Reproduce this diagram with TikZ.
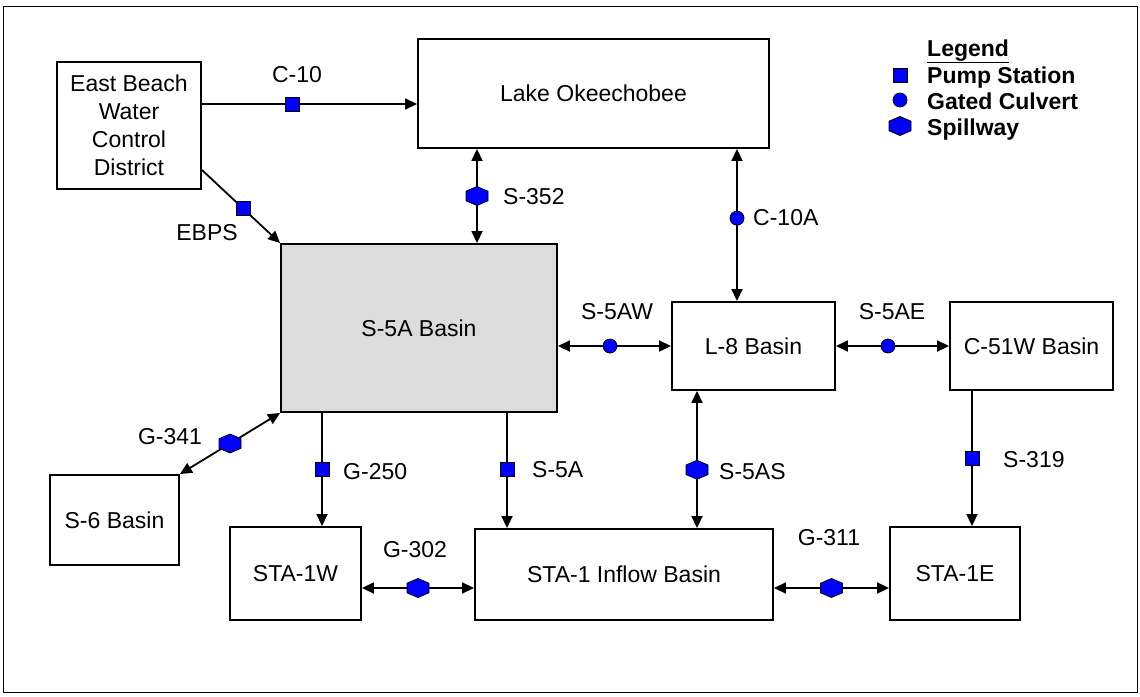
\documentclass[tikz,border=0pt]{standalone}
\usepackage{fontspec}
\setmainfont{Liberation Sans}
\usetikzlibrary{arrows.meta,positioning,shapes.geometric}
\definecolor{pumpblue}{RGB}{0,0,255}
\definecolor{basingray}{RGB}{220,220,220}
\tikzset{
  basin/.style={rectangle, draw=black, line width=1.9pt, fill=white,
                align=center, inner sep=2pt},
  basinmain/.style={basin, fill=basingray},
  pump/.style={rectangle, draw=black, line width=0.8pt, fill=pumpblue,
               minimum size=14pt, inner sep=0pt},
  culvert/.style={circle, draw=black, line width=0.8pt, fill=pumpblue,
                  minimum size=14pt, inner sep=0pt},
  spillhex/.style={draw=black, line width=0.8pt, fill=pumpblue},
  arr/.style={-{Triangle[length=12pt,width=11pt]}, line width=1.8pt},
  arrboth/.style={{Triangle[length=12pt,width=11pt]}-{Triangle[length=12pt,width=11pt]},
                  line width=1.8pt},
  lbl/.style={inner sep=0pt},
  lgd/.style={inner sep=0pt, anchor=west,
              font=\fontsize{23pt}{28pt}\selectfont\bfseries},
}
% spillway marker round a named coordinate
\newcommand{\spillat}[1]{%
  \draw[spillhex] (#1) ++(0,-9.5) -- ++(11,4.75) -- ++(0,9.5) -- ++(-11,4.75)
    -- ++(-11,-4.75) -- ++(0,-9.5) -- cycle;}

\begin{document}
\begin{tikzpicture}[x=1pt, y=-1pt, font=\fontsize{23pt}{28pt}\selectfont]
  \useasboundingbox (0,0) rectangle (1140,696);
  \draw[line width=1pt] (3,6) rectangle (1137,692);
  % basins
  \node[basin, minimum width=144pt, minimum height=127pt] (ebwcd) at (129,125.5)
       {East Beach\\Water\\Control\\District};
  \node[basin, minimum width=351pt, minimum height=109pt] (lake) at (593.5,93.5) {Lake Okeechobee};
  \node[basinmain, minimum width=276pt, minimum height=168pt] (s5a) at (419,328) {S-5A Basin};
  \node[basin, minimum width=163pt, minimum height=88pt] (l8) at (753.5,346) {L-8 Basin};
  \node[basin, minimum width=163pt, minimum height=88pt] (c51w) at (1031.5,346) {C-51W Basin};
  \node[basin, minimum width=129pt, minimum height=90pt] (s6) at (114.5,520) {S-6 Basin};
  \node[basin, minimum width=131pt, minimum height=93pt] (sta1w) at (295.5,573.5) {STA-1W};
  \node[basin, minimum width=298pt, minimum height=91pt] (sta1in) at (624,574.5) {STA-1 Inflow Basin};
  \node[basin, minimum width=130pt, minimum height=93pt] (sta1e) at (955,573.5) {STA-1E};
  % pump stations and gated culverts
  \draw[arr] ([yshift=21.5pt]ebwcd.east) -- node[pump, pos=0.42] (c10) {} (lake.west |- 0,104);
  \draw[arr] ([yshift=-44.5pt]ebwcd.east) -- node[pump, pos=0.525] (ebps) {} (s5a.north west);
  \draw[arrboth] (l8.north -| 737,0) -- node[culvert, pos=0.545] (c10a) {} (lake.south -| 737,0);
  \draw[arrboth] (s5a.east |- l8.west) -- node[culvert, pos=0.46] (s5aw) {} (l8.west);
  \draw[arrboth] (l8.east) -- node[culvert, pos=0.46] (s5ae) {} (c51w.west);
  \draw[arr] (s5a.south -| 322,0) -- node[pump] (g250) {} (sta1w.north -| 322,0);
  \draw[arr] (s5a.south -| 507,0) -- node[pump, pos=0.49] (s5ap) {} (sta1in.north -| 507,0);
  \draw[arr] (c51w.south -| 972,0) -- node[pump, pos=0.5] (s319) {} (sta1e.north -| 972,0);
  % spillways
  \draw[arrboth] (lake.south -| 477,0) -- coordinate[pos=0.5] (s352) (s5a.north -| 477,0);
  \draw[arrboth] (s5a.south west) -- coordinate[pos=0.5] (g341) (s6.north east);
  \draw[arrboth] (l8.south -| 697,0) -- coordinate[pos=0.575] (s5as) (sta1in.north -| 697,0);
  \draw[arrboth] (sta1w.east |- 0,588) -- coordinate[pos=0.5] (g302) (sta1in.west |- 0,588);
  \draw[arrboth] (sta1in.east |- 0,588) -- coordinate[pos=0.5] (g311) (sta1e.west |- 0,588);
  \spillat{s352} \spillat{g341} \spillat{s5as} \spillat{g302} \spillat{g311}
  % labels
  \node[lbl] (c10l) at (297,75) {C-10};
  \node[lbl] (ebpsl) at (207,233) {EBPS};
  \node[lbl, anchor=west] (s352l) at (503,197) {S-352};
  \node[lbl, anchor=west] (c10al) at (753,218) {C-10A};
  \node[lbl] (s5awl) at (617,312) {S-5AW};
  \node[lbl] (s5ael) at (892,312) {S-5AE};
  \node[lbl] (g341l) at (170,437) {G-341};
  \node[lbl, anchor=west] (g250l) at (343,472) {G-250};
  \node[lbl, anchor=west] (s5al) at (532,470) {S-5A};
  \node[lbl, anchor=west] (s5asl) at (719,472) {S-5AS};
  \node[lbl, anchor=west] (s319l) at (1003,460) {S-319};
  \node[lbl] (g302l) at (415,550) {G-302};
  \node[lbl] (g311l) at (829,538) {G-311};
  % legend
  \node[lgd, anchor=base west] (lgdtitle) at (927,56) {\underline{Legend}};
  \node[pump] (lgdpump) at (900,75) {};
  \node[lgd, anchor=base west] (lgdpumpt) at (927,83) {Pump Station};
  \node[culvert] (lgdcul) at (900,100) {};
  \node[lgd, anchor=base west] (lgdcult) at (927,109) {Gated Culvert};
  \coordinate (lgdspill) at (900,126);
  \spillat{lgdspill}
  \node[lgd, anchor=base west] (lgdspillt) at (927,135) {Spillway};
\end{tikzpicture}
\end{document}
